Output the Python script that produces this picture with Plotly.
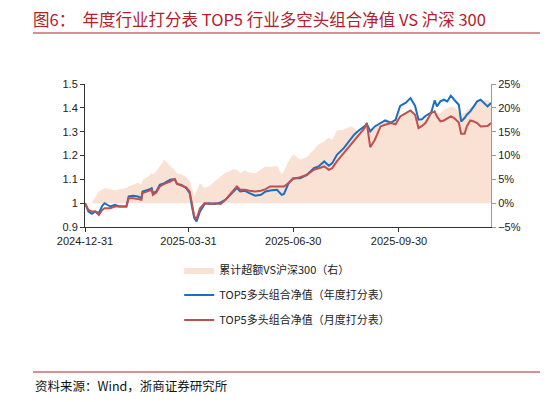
import plotly.graph_objects as go

# Data
dates = [
    "2024-12-31", "2025-01-03", "2025-01-06", "2025-01-09", "2025-01-12", "2025-01-15", "2025-01-17", "2025-01-22", "2025-01-26", "2025-01-30",
    "2025-02-05", "2025-02-07", "2025-02-11", "2025-02-15", "2025-02-18", "2025-02-19", "2025-02-24", "2025-02-27", "2025-02-28", "2025-03-03",
    "2025-03-06", "2025-03-10", "2025-03-15", "2025-03-19", "2025-03-21", "2025-03-25", "2025-03-29", "2025-04-01", "2025-04-03", "2025-04-05",
    "2025-04-07", "2025-04-10", "2025-04-14", "2025-04-18", "2025-04-23", "2025-04-28", "2025-05-02", "2025-05-06", "2025-05-09", "2025-05-12",
    "2025-05-15", "2025-05-19", "2025-05-23", "2025-05-28", "2025-06-02", "2025-06-06", "2025-06-10", "2025-06-16", "2025-06-20", "2025-06-22",
    "2025-06-26", "2025-06-30", "2025-07-06", "2025-07-12", "2025-07-18", "2025-07-22", "2025-07-27", "2025-07-31", "2025-08-03", "2025-08-07",
    "2025-08-13", "2025-08-19", "2025-08-22", "2025-08-26", "2025-08-31", "2025-09-02", "2025-09-05", "2025-09-09", "2025-09-14", "2025-09-18",
    "2025-09-23", "2025-09-27", "2025-10-01", "2025-10-06", "2025-10-10", "2025-10-14", "2025-10-17", "2025-10-20", "2025-10-23", "2025-10-28",
    "2025-10-31", "2025-11-02", "2025-11-05", "2025-11-08", "2025-11-11", "2025-11-14", "2025-11-17", "2025-11-21", "2025-11-23", "2025-11-26",
    "2025-11-28", "2025-12-01", "2025-12-04", "2025-12-07", "2025-12-10", "2025-12-13", "2025-12-16", "2025-12-19",
]

nav_year = [
    1.000, 0.965, 0.955, 0.965, 0.958, 0.989, 1.000, 0.986, 0.993, 0.986,
    0.986, 1.028, 1.031, 1.028, 1.021, 1.049, 1.056, 1.063, 1.042, 1.049,
    1.077, 1.084, 1.098, 1.101, 1.081, 1.077, 1.063, 1.042, 0.986, 0.937,
    0.923, 0.965, 0.997, 1.000, 0.997, 1.003, 1.014, 1.035, 1.049, 1.063,
    1.049, 1.052, 1.042, 1.031, 1.035, 1.049, 1.053, 1.056, 1.035, 1.039,
    1.084, 1.105, 1.105, 1.119, 1.147, 1.154, 1.175, 1.157, 1.168, 1.203,
    1.231, 1.266, 1.287, 1.305, 1.322, 1.333, 1.301, 1.322, 1.336, 1.347,
    1.338, 1.350, 1.408, 1.422, 1.441, 1.408, 1.350, 1.352, 1.366, 1.380,
    1.431, 1.406, 1.427, 1.434, 1.427, 1.451, 1.434, 1.413, 1.343, 1.357,
    1.371, 1.385, 1.406, 1.427, 1.434, 1.420, 1.406, 1.420,
]

nav_month = [
    1.000, 0.972, 0.965, 0.965, 0.951, 0.972, 0.979, 0.979, 0.986, 0.986,
    0.986, 1.021, 1.021, 1.017, 1.014, 1.042, 1.049, 1.056, 1.035, 1.045,
    1.070, 1.081, 1.091, 1.101, 1.081, 1.073, 1.066, 1.049, 0.993, 0.944,
    0.933, 0.979, 1.000, 0.997, 1.000, 0.997, 1.014, 1.035, 1.053, 1.070,
    1.056, 1.056, 1.052, 1.049, 1.052, 1.059, 1.070, 1.070, 1.067, 1.070,
    1.084, 1.102, 1.109, 1.119, 1.140, 1.147, 1.154, 1.140, 1.147, 1.175,
    1.210, 1.245, 1.266, 1.287, 1.315, 1.336, 1.235, 1.266, 1.322, 1.329,
    1.336, 1.331, 1.364, 1.378, 1.389, 1.371, 1.315, 1.324, 1.336, 1.378,
    1.385, 1.364, 1.343, 1.347, 1.357, 1.364, 1.357, 1.338, 1.291, 1.291,
    1.322, 1.347, 1.343, 1.336, 1.322, 1.322, 1.324, 1.336,
]

# cumulative excess return vs CSI 300, in %
excess = [
    0.0, -0.1, 0.1, 1.4, 2.5, 2.8, 3.2, 2.9, 2.7, 2.9,
    3.2, 3.5, 3.9, 4.3, 3.9, 4.9, 5.6, 6.3, 6.0, 6.7,
    7.7, 9.1, 7.8, 7.0, 6.3, 6.0, 5.5, 4.6, 3.2, 1.4,
    2.5, 4.2, 3.2, 3.6, 4.6, 5.5, 6.4, 6.7, 7.1, 7.0,
    6.3, 6.9, 6.4, 6.3, 7.0, 7.7, 7.6, 7.8, 6.0, 6.7,
    8.8, 10.2, 9.1, 9.7, 11.2, 12.3, 13.0, 13.7, 13.3, 15.3,
    15.4, 16.1, 15.8, 14.6, 15.3, 16.5, 15.8, 15.8, 16.5, 17.2,
    16.9, 17.6, 18.2, 18.8, 19.3, 18.8, 17.4, 17.2, 17.5, 18.3,
    18.9, 18.9, 18.8, 19.6, 20.0, 20.3, 20.2, 19.0, 18.6, 18.9,
    19.5, 20.0, 20.3, 20.9, 21.4, 21.6, 21.7, 21.1,
]

x_ticks = ["2024-12-31", "2025-03-31", "2025-06-30", "2025-09-30"]

title_text = "图6：  年度行业打分表 TOP5 行业多空头组合净值 VS 沪深 300"
source_text = "资料来源：Wind，浙商证券研究所"

CJK = "Noto Sans CJK SC"
RED_TITLE = "#B3202A"

# the page body adds 8px around the figure, so the figure is 16px smaller
W, H = 532, 386
PLOT_W, PLOT_H = 406, 143

fig = go.Figure()

# excess area on the right axis (main y, drawn underneath)
fig.add_trace(go.Scatter(
    x=dates, y=excess, name="累计超额VS沪深300（右）",
    mode="lines", line=dict(width=0, color="#F9E1D3"),
    fill="tozeroy", fillcolor="#F9E1D3",
    yaxis="y", legendgroup="a",
))

fig.add_trace(go.Scatter(
    x=dates, y=nav_year, name="TOP5多头组合净值（年度打分表）",
    mode="lines", line=dict(width=2, color="#1B6FC2"),
    yaxis="y2", legendgroup="b",
))

fig.add_trace(go.Scatter(
    x=dates, y=nav_month, name="TOP5多头组合净值（月度打分表）",
    mode="lines", line=dict(width=2, color="#C0504D"),
    yaxis="y2", legendgroup="c",
))

fig.update_layout(
    width=W, height=H,
    margin=dict(l=77, r=W - 77 - PLOT_W, t=76, b=H - 76 - PLOT_H),
    paper_bgcolor="white", plot_bgcolor="white",
    font=dict(family="Liberation Sans, Arial", size=11, color="#222"),
    title=dict(
        text=title_text, xref="container", yref="container",
        x=25 / W, xanchor="left", y=1 - 12 / H, yanchor="middle",
        font=dict(family=CJK, size=16.5, color=RED_TITLE),
    ),
    xaxis=dict(
        type="date", range=["2024-12-31", "2025-12-19"],
        tickvals=x_ticks, tickformat="%Y-%m-%d",
        showgrid=False, zeroline=False,
        showline=True, linecolor="#333", linewidth=1,
        ticks="outside", ticklen=4, tickcolor="#333",
        tickfont=dict(size=11, color="#222"),
    ),
    yaxis=dict(
        side="right", range=[-5, 25], dtick=5, ticksuffix="%",
        showgrid=False, zeroline=False,
        showline=True, linecolor="#999", linewidth=1,
        ticks="outside", ticklen=4, tickcolor="#999",
        tickfont=dict(size=11, color="#222"),
    ),
    yaxis2=dict(
        side="left", overlaying="y", range=[0.9, 1.5],
        tickvals=[0.9, 1.0, 1.1, 1.2, 1.3, 1.4, 1.5],
        ticktext=["0.9", "1", "1.1", "1.2", "1.3", "1.4", "1.5"],
        showgrid=False, zeroline=False,
        showline=True, linecolor="#333", linewidth=1,
        ticks="outside", ticklen=4, tickcolor="#333",
        tickfont=dict(size=11, color="#222"),
    ),
    legend=dict(
        orientation="v", x=0.232, xanchor="left", y=-0.2, yanchor="top",
        font=dict(family=CJK, size=11, color="#222"),
        tracegroupgap=6, bgcolor="rgba(0,0,0,0)",
    ),
    showlegend=True,
    shapes=[
        dict(type="line", xref="paper", yref="paper",
             x0=-52 / PLOT_W, x1=463 / PLOT_W, y0=194 / PLOT_H, y1=194 / PLOT_H,
             line=dict(color=RED_TITLE, width=1.2)),
        dict(type="line", xref="paper", yref="paper",
             x0=-52 / PLOT_W, x1=463 / PLOT_W, y0=-145 / PLOT_H, y1=-145 / PLOT_H,
             line=dict(color=RED_TITLE, width=1.2)),
    ],
    annotations=[
        dict(text=source_text, xref="paper", yref="paper",
             x=-52 / PLOT_W, xanchor="left", y=-158 / PLOT_H, yanchor="middle",
             showarrow=False, font=dict(family=CJK, size=12.5, color="#111")),
    ],
)

fig.write_html("out.html")
